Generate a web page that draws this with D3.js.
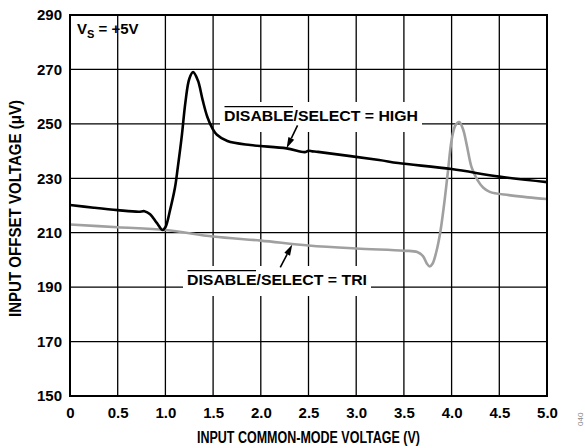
<!DOCTYPE html>
<html>
<head>
<meta charset="utf-8">
<script src="https://cdn.jsdelivr.net/npm/d3@7"></script>
<style>
  body { margin: 0; background: #fff; }
  text { font-family: "Liberation Sans", Arial, sans-serif; font-weight: bold; }
</style>
</head>
<body>
<script>
// x ticks, y ticks
var xTicks = [0, 0.5, 1.0, 1.5, 2.0, 2.5, 3.0, 3.5, 4.0, 4.5, 5.0];
var yTicks = [150, 170, 190, 210, 230, 250, 270, 290];

// DISABLE/SELECT = HIGH (black)
var highV = [0, 0.25, 0.5, 0.72, 0.78, 0.84, 0.91, 0.97, 1.0, 1.05, 1.10, 1.13, 1.17, 1.21, 1.25, 1.29, 1.34, 1.39, 1.44, 1.49, 1.54, 1.65, 1.89, 2.27, 2.46, 2.5, 2.54, 2.6, 3.24, 3.44, 4.0, 4.5, 5.0];
var highOff = [220.2, 219.2, 218.3, 217.7, 217.9, 216.8, 213.6, 211.0, 212.0, 218.5, 226.5, 234.0, 245.0, 258.0, 266.5, 269.0, 266.0, 258.8, 252.5, 248.5, 246.0, 243.7, 242.2, 241.0, 239.6, 240.1, 239.9, 239.7, 236.7, 235.6, 233.4, 230.6, 228.6];

// DISABLE/SELECT = TRI (gray)
var triV = [0, 0.5, 1.0, 1.5, 2.0, 2.5, 3.0, 3.5, 3.64, 3.70, 3.74, 3.77, 3.80, 3.84, 3.88, 3.92, 3.96, 4.0, 4.04, 4.08, 4.12, 4.16, 4.21, 4.27, 4.33, 4.4, 4.6, 4.8, 5.0];
var triOff = [213.0, 212.0, 211.0, 208.6, 207.1, 205.3, 204.2, 203.4, 202.9, 201.4, 198.7, 197.6, 198.6, 203.0, 209.9, 220.0, 232.0, 244.0, 249.5, 250.7, 248.0, 242.0, 234.0, 229.4, 226.6, 225.0, 223.8, 223.0, 222.4];

var W = 585, H = 448;
var margin = {top: 15, right: 38, bottom: 52, left: 70},
    width = W - margin.left - margin.right,
    height = H - margin.top - margin.bottom;

var x = d3.scaleLinear().domain([0, 5]).range([0, width]);
var y = d3.scaleLinear().domain([150, 290]).range([height, 0]);

var svg = d3.select("body").append("svg")
    .attr("width", W)
    .attr("height", H);

svg.append("rect").attr("width", W).attr("height", H).attr("fill", "#fff");

var g = svg.append("g")
    .attr("transform", "translate(" + margin.left + "," + margin.top + ")");

// grid
g.append("g").selectAll("line").data(xTicks).enter().append("line")
    .attr("x1", function(d) { return x(d); })
    .attr("x2", function(d) { return x(d); })
    .attr("y1", 0).attr("y2", height)
    .attr("stroke", "#000").attr("stroke-width", 1.3);
g.append("g").selectAll("line").data(yTicks).enter().append("line")
    .attr("x1", 0).attr("x2", width)
    .attr("y1", function(d) { return y(d); })
    .attr("y2", function(d) { return y(d); })
    .attr("stroke", "#000").attr("stroke-width", 1.3);

// label boxes sit over the grid
var labels = g.append("g");

var line = d3.line()
    .x(function(d) { return x(d[0]); })
    .y(function(d) { return y(d[1]); })
    .curve(d3.curveCatmullRom.alpha(0.5));

g.append("path")
    .datum(d3.zip(triV, triOff))
    .attr("d", line)
    .attr("fill", "none")
    .attr("stroke", "#a0a0a0")
    .attr("stroke-width", 2.6);

g.append("path")
    .datum(d3.zip(highV, highOff))
    .attr("d", line)
    .attr("fill", "none")
    .attr("stroke", "#000")
    .attr("stroke-width", 2.6);

// frame
g.append("rect")
    .attr("width", width).attr("height", height)
    .attr("fill", "none").attr("stroke", "#000").attr("stroke-width", 2);

// axes
var yAxis = d3.axisLeft(y).tickValues(yTicks).tickSize(0).tickPadding(8);
var xAxis = d3.axisBottom(x).tickValues(xTicks).tickSize(0).tickPadding(11)
    .tickFormat(function(d) { return d === 0 ? "0" : d.toFixed(1); });

g.append("g").call(yAxis)
    .call(function(s) { s.select(".domain").remove(); })
    .selectAll("text").attr("font-size", 15).attr("fill", "#000")
    .style("font-family", "'Liberation Sans', Arial, sans-serif").style("font-weight", "bold");

g.append("g").attr("transform", "translate(0," + height + ")").call(xAxis)
    .call(function(s) { s.select(".domain").remove(); })
    .selectAll("text").attr("font-size", 15).attr("fill", "#000")
    .style("font-family", "'Liberation Sans', Arial, sans-serif").style("font-weight", "bold");

svg.append("text")
    .attr("transform", "translate(21,208.5) rotate(-90)")
    .attr("text-anchor", "middle")
    .attr("font-size", 16)
    .attr("textLength", 217)
    .attr("lengthAdjust", "spacingAndGlyphs")
    .text("INPUT OFFSET VOLTAGE (\u03bcV)");

svg.append("text")
    .attr("x", 308.5)
    .attr("y", 443)
    .attr("text-anchor", "middle")
    .attr("font-size", 16)
    .attr("textLength", 223)
    .attr("lengthAdjust", "spacingAndGlyphs")
    .text("INPUT COMMON-MODE VOLTAGE (V)");

// supply label
var vs = g.append("text").attr("x", 7).attr("y", 19).attr("font-size", 15);
vs.append("tspan").text("V");
vs.append("tspan").attr("font-size", 11).attr("dy", 4).text("S");
vs.append("tspan").attr("dy", -4).text(" = +5V");

// figure id
svg.append("text")
    .attr("transform", "translate(583,426) rotate(-90)")
    .attr("font-size", 8)
    .attr("fill", "#888")
    .style("font-weight", "normal")
    .text("040");

function curveLabel(x0, baseline, rest, len, tip, tail) {
    var t = labels.append("text")
        .attr("x", x0).attr("y", baseline)
        .attr("font-size", 15)
        .attr("textLength", len)
        .attr("lengthAdjust", "spacingAndGlyphs")
        .text("DISABLE" + rest);
    var bb = t.node().getBBox();
    var over = t.node().getSubStringLength(0, 7);
    labels.insert("rect", "text")
        .attr("x", bb.x - 4).attr("y", baseline - 19)
        .attr("width", bb.width + 8).attr("height", 30)
        .attr("fill", "#fff");
    labels.append("line")
        .attr("x1", bb.x + 0.5).attr("x2", bb.x + over - 0.5)
        .attr("y1", baseline - 14.3).attr("y2", baseline - 14.3)
        .attr("stroke", "#000").attr("stroke-width", 1.2);
    // arrow
    var tx = x(tip[0]), ty = y(tip[1]);
    var ax = tx + tail[0], ay = ty + tail[1];
    var ang = Math.atan2(ty - ay, tx - ax);
    var hl = 11, half = 3.2;
    var bx = tx - hl * Math.cos(ang), by = ty - hl * Math.sin(ang);
    labels.append("line")
        .attr("x1", ax).attr("y1", ay).attr("x2", bx).attr("y2", by)
        .attr("stroke", "#000").attr("stroke-width", 1.6);
    labels.append("path")
        .attr("d", "M" + tx + "," + ty +
            "L" + (bx + half * Math.sin(ang)) + "," + (by - half * Math.cos(ang)) +
            "L" + (bx - half * Math.sin(ang)) + "," + (by + half * Math.cos(ang)) + "Z")
        .attr("fill", "#000");
}

curveLabel(224 - margin.left, 121 - margin.top, "/SELECT = HIGH", 194, [2.27, 241.0], [11, -23]);
curveLabel(187 - margin.left, 285 - margin.top, "/SELECT = TRI", 180, [2.33, 205.7], [-12, 23]);
</script>
</body>
</html>
